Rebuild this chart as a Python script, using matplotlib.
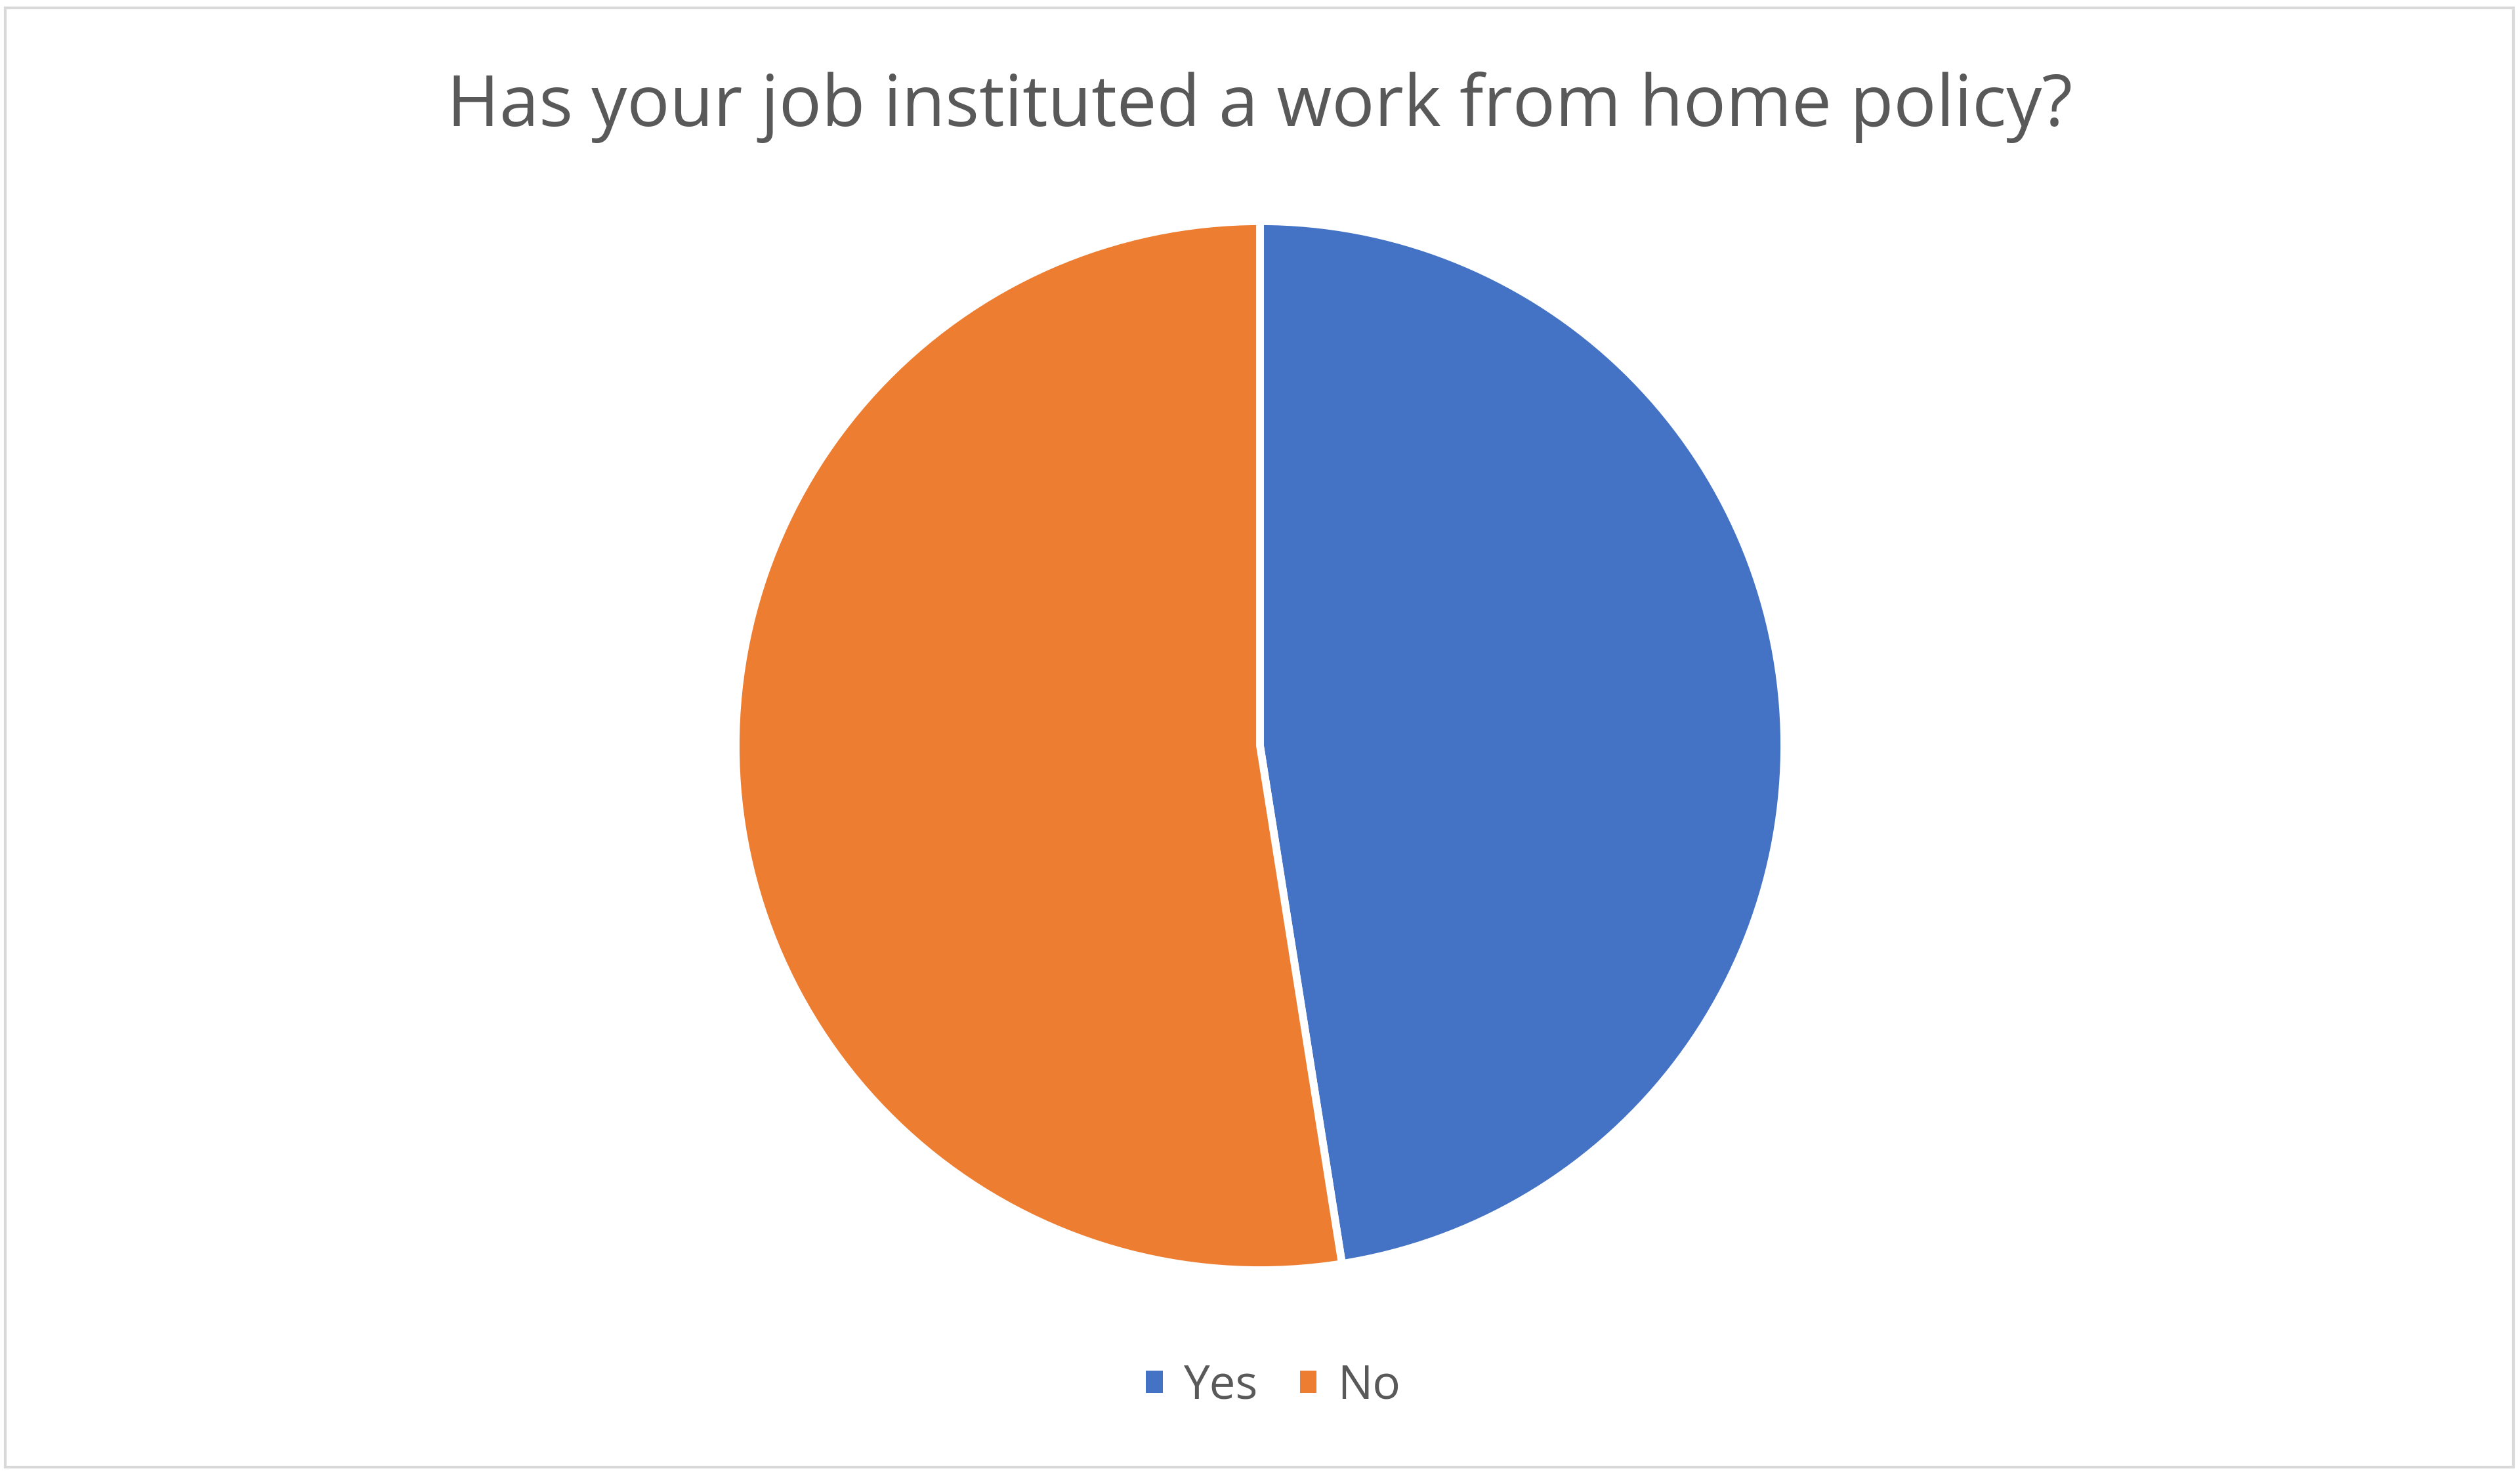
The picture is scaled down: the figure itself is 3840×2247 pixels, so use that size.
import matplotlib
matplotlib.use("Agg")
import matplotlib.pyplot as plt
from matplotlib.patches import Rectangle, Patch

categories = ["Yes", "No"]
values = [47.5, 52.5]
colors = ["#4472C4", "#ED7D31"]
title = "Has your job instituted a work from home policy?"

W, H = 3840, 2247
DPI = 100
fig = plt.figure(figsize=(W / DPI, H / DPI), dpi=DPI)
fig.patch.set_facecolor("white")

# outer frame
fig.patches.append(Rectangle((8 / W, 12 / H), (3830 - 8) / W, (2235 - 12) / H,
                             transform=fig.transFigure, fill=False,
                             edgecolor="#D9D9D9", linewidth=3))

cx, cy, r = 1920, 1136, 799
ax = fig.add_axes([(cx - r) / W, (H - cy - r) / H, 2 * r / W, 2 * r / H])
ax.pie(values, colors=colors, startangle=90, counterclock=False,
       wedgeprops=dict(edgecolor="white", linewidth=8.5))
ax.set_xlim(-1, 1)
ax.set_ylim(-1, 1)
ax.set_aspect("equal")
ax.axis("off")

fig.text(0.5, 1 - 163 / H, title, ha="center", va="center",
         fontsize=78, color="#595959", family="Open Sans")

handles = [Patch(facecolor=c, edgecolor="none") for c in colors]
leg = fig.legend(handles, categories, loc="center", ncol=2,
                 bbox_to_anchor=(1940 / W, 1 - 2112 / H), frameon=False,
                 prop=dict(family="Open Sans", size=51),
                 handlelength=0.36, handleheight=0.36, handletextpad=0.45,
                 columnspacing=0.9, labelcolor="#595959")

fig.savefig("out.png", dpi=DPI, facecolor="white")
